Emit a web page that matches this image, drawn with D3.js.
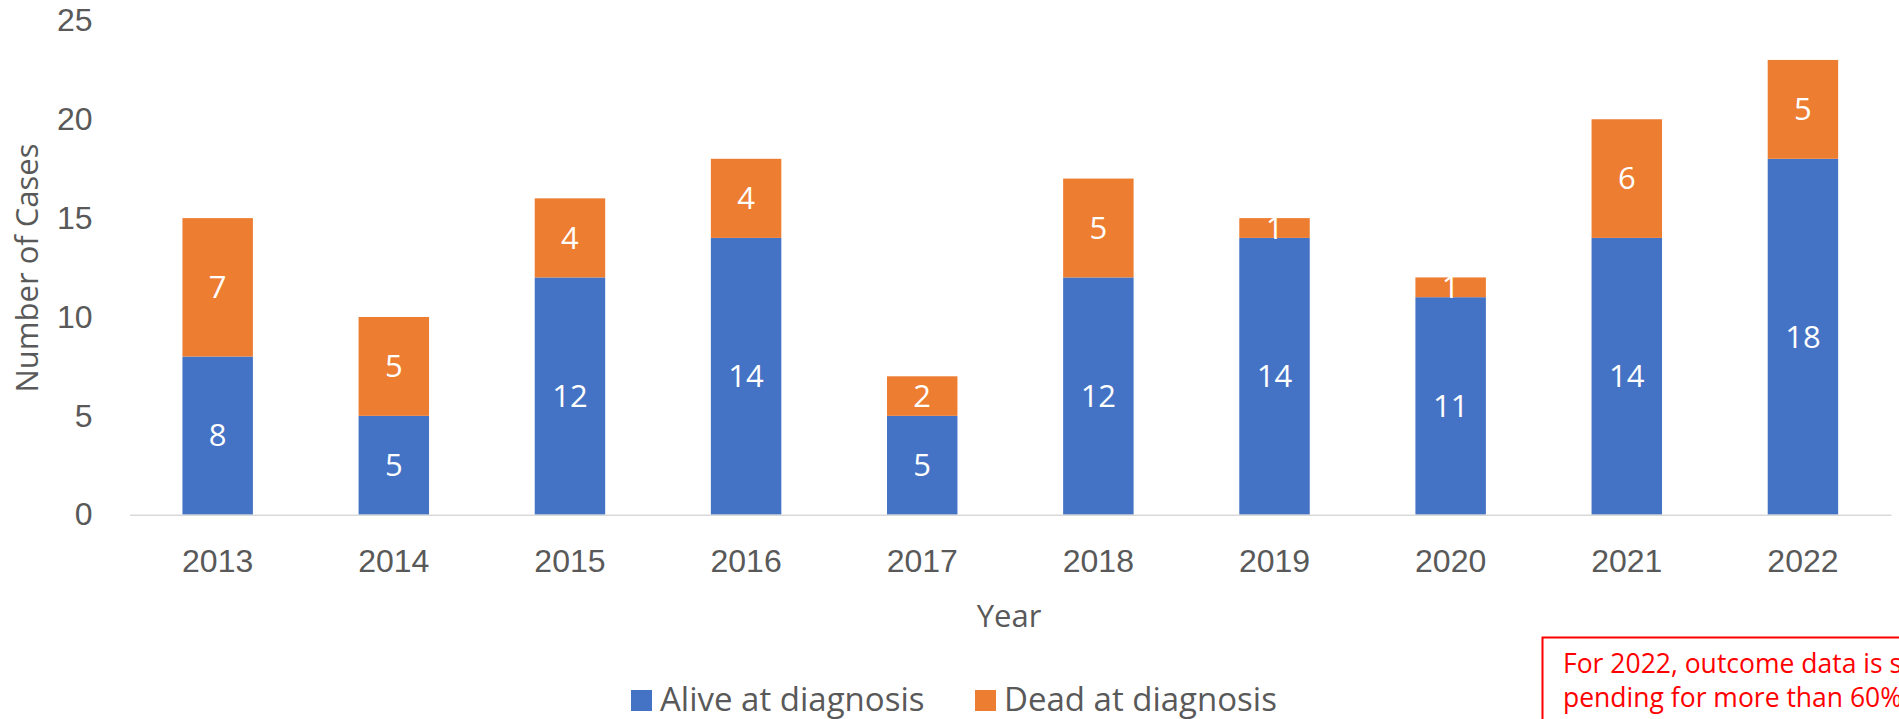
<!DOCTYPE html>
<html>
<head>
<meta charset="utf-8">
<script src="https://cdn.jsdelivr.net/npm/d3@7"></script>
<style>
  body { margin: 0; background: #fff; }
  svg { display: block; font-family: 'Open Sans', sans-serif; }
  .axis text { fill: #595959; font-size: 32px; }
  .axis .domain { stroke: #d9d9d9; stroke-width: 1.5px; }
  .label { fill: #595959; font-size: 31px; }
  .legend text { font-size: 33px; }
  .value { fill: #fff; font-size: 31px; text-anchor: middle; }
  .note { fill: #ff0000; font-size: 26.5px; }
</style>
</head>
<body>
<svg id="chart" width="1899" height="719"></svg>
<script>
// data
var years = ['2013', '2014', '2015', '2016', '2017', '2018', '2019', '2020', '2021', '2022'];
var alive = [8, 5, 12, 14, 5, 12, 14, 11, 14, 18];
var dead = [7, 5, 4, 4, 2, 5, 1, 1, 6, 5];
var yTicks = [0, 5, 10, 15, 20, 25];
var seriesNames = ['Alive at diagnosis', 'Dead at diagnosis'];
var colors = ['#4472c4', '#ed7d31'];
var noteLines = ['For 2022, outcome data is still', 'pending for more than 60% of cases.'];

var svg = d3.select('#chart');

var table = years.map((y, i) => ({ year: y, alive: alive[i], dead: dead[i] }));
var stack = d3.stack().keys(['alive', 'dead'])(table);

var x = d3.scaleBand()
  .domain(years)
  .range([129.6, 1891])
  .paddingInner(0.6)
  .paddingOuter(0.3);

var y = d3.scaleLinear()
  .domain([0, 25])
  .range([514.7, 20.4]);

///////////////////////////////////////////////////////////////
// bars
///////////////////////////////////////////////////////////////

var layers = svg.selectAll('.layer')
  .data(stack)
  .enter()
  .append('g')
  .attr('class', 'layer')
  .attr('fill', (d, i) => colors[i]);

layers.selectAll('rect')
  .data(d => d)
  .enter()
  .append('rect')
  .attr('x', d => x(d.data.year))
  .attr('y', d => y(d[1]))
  .attr('width', x.bandwidth())
  .attr('height', d => y(d[0]) - y(d[1]));

// value labels in the middle of each segment
layers.selectAll('.value')
  .data(d => d)
  .enter()
  .append('text')
  .attr('class', 'value')
  .attr('x', d => x(d.data.year) + x.bandwidth() / 2)
  .attr('y', d => y((d[0] + d[1]) / 2))
  .attr('dy', '0.35em')
  .text(d => d[1] - d[0]);

///////////////////////////////////////////////////////////////
// axes
///////////////////////////////////////////////////////////////

var xAxis = d3.axisBottom(x)
  .tickSize(0)
  .tickSizeOuter(0)
  .tickPadding(35);

svg.append('g')
  .attr('class', 'axis')
  .attr('transform', 'translate(0,' + y(0) + ')')
  .call(xAxis);

var yAxis = d3.axisLeft(y)
  .tickValues(yTicks)
  .tickSize(0)
  .tickPadding(37);

svg.append('g')
  .attr('class', 'axis')
  .attr('transform', 'translate(129.6,0)')
  .call(yAxis)
  .call(g => g.select('.domain').remove());

svg.append('text')
  .attr('class', 'label')
  .attr('x', 1009)
  .attr('y', 627)
  .attr('text-anchor', 'middle')
  .text('Year');

svg.append('text')
  .attr('class', 'label')
  .attr('transform', 'rotate(-90)')
  .attr('x', -268)
  .attr('y', 38)
  .attr('text-anchor', 'middle')
  .text('Number of Cases');

///////////////////////////////////////////////////////////////
// legend
///////////////////////////////////////////////////////////////

var legendX = [631, 975];

var legend = svg.selectAll('.legend')
  .data(seriesNames)
  .enter()
  .append('g')
  .attr('class', 'legend')
  .attr('transform', (d, i) => 'translate(' + legendX[i] + ',690)');

legend.append('rect')
  .attr('width', 21)
  .attr('height', 21)
  .attr('fill', (d, i) => colors[i]);

legend.append('text')
  .attr('class', 'label')
  .attr('x', 29)
  .attr('y', 21)
  .text(d => d);

///////////////////////////////////////////////////////////////
// red note box (runs off the right edge)
///////////////////////////////////////////////////////////////

svg.append('rect')
  .attr('x', 1542.5)
  .attr('y', 637.5)
  .attr('width', 500)
  .attr('height', 150)
  .attr('fill', '#fff')
  .attr('stroke', '#ff0000')
  .attr('stroke-width', 2);

svg.selectAll('.note')
  .data(noteLines)
  .enter()
  .append('text')
  .attr('class', 'note')
  .attr('x', 1563)
  .attr('y', (d, i) => 673 + i * 34)
  .text(d => d);
</script>
</body>
</html>
